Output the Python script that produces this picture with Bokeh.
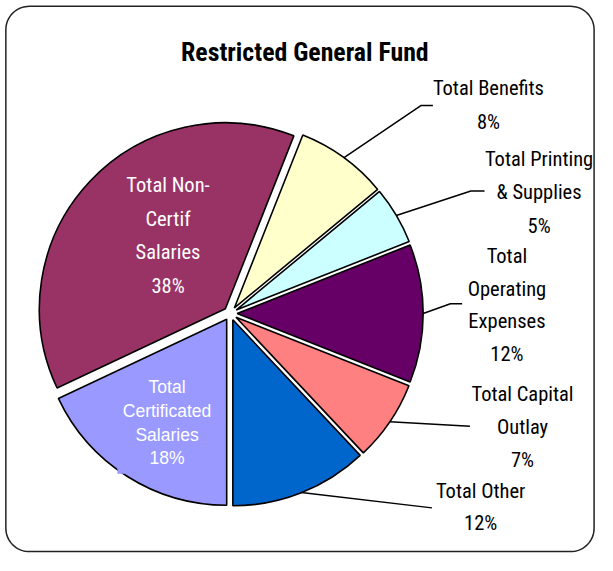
import numpy as np
from bokeh.plotting import figure
from bokeh.models import ColumnDataSource, Range1d
from bokeh.core.properties import value
from bokeh.embed import file_html
from bokeh.resources import INLINE

# ---------------- data ----------------
categories = ["Total Certificated Salaries", "Total Non-Certif Salaries", "Total Benefits",
              "Total Printing & Supplies", "Total Operating Expenses", "Total Capital Outlay",
              "Total Other"]
shares = [18, 38, 8, 5, 12, 7, 12]
colors = ["#9999FF", "#993366", "#FFFFCC", "#CCFFFF", "#660066", "#FF8080", "#0066CC"]
label_lines = [["Total", "Certificated", "Salaries"],
               ["Total Non-", "Certif", "Salaries"],
               ["Total Benefits"],
               ["Total Printing", "& Supplies"],
               ["Total", "Operating", "Expenses"],
               ["Total Capital", "Outlay"],
               ["Total Other"]]
title_text = "Restricted General Fund"

# ---------------- layout ----------------
W, H = 597, 555
REF_W, REF_H = 613, 571
S = W / REF_W  # font scale


def sy(y):  # reference screen y -> data y
    return REF_H - y


def fs(px):
    return f"{px * S:.1f}px"


CX, CY = 236.0, sy(322.0)
R = 191.0
EXPLODE = 7.0
FIRST_ANGLE = 180.0  # degrees clockwise from 12 o'clock

NARROW = "Roboto Condensed, DejaVu Sans Condensed, sans-serif"
REGULAR = "Liberation Sans, Arial, sans-serif"

# label placement: (x center, first line screen y, line spacing, color, font, size)
label_layout = {
    "Total Certificated Salaries": (171, 398, 24.3, "white", REGULAR, 18),
    "Total Non-Certif Salaries": (172, 190, 34.5, "white", NARROW, 21),
    "Total Benefits": (501, 90, 35, "black", NARROW, 21),
    "Total Printing & Supplies": (553, 163, 34.5, "black", NARROW, 21),
    "Total Operating Expenses": (520, 263, 33.4, "black", NARROW, 21),
    "Total Capital Outlay": (536, 405, 34, "black", NARROW, 21),
    "Total Other": (493, 505, 33, "black", NARROW, 21),
}
leader_path = {  # elbow/end points in reference screen coords
    "Total Benefits": [(432, 108), (444, 108)],
    "Total Printing & Supplies": [(483, 196), (497, 196)],
    "Total Operating Expenses": [(462, 312), (474, 312)],
    "Total Capital Outlay": [(482, 438)],
    "Total Other": [(443, 522)],
}

# ---------------- geometry from data ----------------
total = float(sum(shares))
cw_start, cw_end = [], []
acc = FIRST_ANGLE
for v in shares:
    cw_start.append(acc)
    acc += v / total * 360.0
    cw_end.append(acc)
cw_start = np.array(cw_start)
cw_end = np.array(cw_end)
cw_mid = np.radians((cw_start + cw_end) / 2.0)
wx = CX + EXPLODE * np.sin(cw_mid)
wy = CY + EXPLODE * np.cos(cw_mid)
start_angle = np.radians(90.0 - cw_end)
end_angle = np.radians(90.0 - cw_start)

src = ColumnDataSource(dict(x=wx, y=wy, sa=start_angle, ea=end_angle, color=colors, name=categories))

p = figure(width=W, height=H, x_range=Range1d(0, REF_W), y_range=Range1d(0, REF_H),
           output_backend="svg", toolbar_location=None, x_axis_type=None, y_axis_type=None,
           min_border=0, outline_line_color=None)
p.grid.visible = False
p.background_fill_color = "white"
p.border_fill_color = "white"

# rounded frame
x0, x1, y0, y1, rr = 5.5, 609.5, sy(567.0), sy(6.0), 24.0
t = np.linspace(0, np.pi / 2, 20)
fx = np.concatenate([x1 - rr + rr * np.cos(t), x0 + rr - rr * np.sin(t),
                     x0 + rr - rr * np.cos(t), x1 - rr + rr * np.sin(t), [x1]])
fy = np.concatenate([y1 - rr + rr * np.sin(t), y1 - rr + rr * np.cos(t),
                     y0 + rr - rr * np.sin(t), y0 + rr - rr * np.cos(t), [y1 - rr]])
p.line(fx, fy, line_color="#222222", line_width=1.5)

p.wedge(x="x", y="y", radius=R, start_angle="sa", end_angle="ea", fill_color="color",
        line_color="black", line_width=1.6, source=src)

# certificated label background box
cert_i = categories.index("Total Certificated Salaries")
p.quad(left=120, right=222, top=sy(382), bottom=sy(487), fill_color=colors[cert_i], line_color=None)

# leader lines
for i, name in enumerate(categories):
    if name in leader_path:
        sxp = wx[i] + R * np.sin(cw_mid[i])
        syp = wy[i] + R * np.cos(cw_mid[i])
        xs = [sxp] + [pt[0] for pt in leader_path[name]]
        ys = [syp] + [sy(pt[1]) for pt in leader_path[name]]
        p.line(xs, ys, line_color="black", line_width=1.5)

# labels
for i, name in enumerate(categories):
    lx, ly, sp, col, font, size = label_layout[name]
    lines = label_lines[i] + [f"{shares[i]}%"]
    ys = [sy(ly + k * sp) for k in range(len(lines))]
    p.text(x=[lx] * len(lines), y=ys, text=lines, text_align="center", text_baseline="middle",
           text_font=value(font), text_font_size=fs(size), text_color=col)

# title
p.text(x=[312.5], y=[sy(53)], text=[title_text], text_align="center", text_baseline="middle",
       text_font=value(NARROW), text_font_size=fs(26.5), text_font_style="bold", text_color="black")

open("out.html", "w").write(file_html(p, INLINE))
